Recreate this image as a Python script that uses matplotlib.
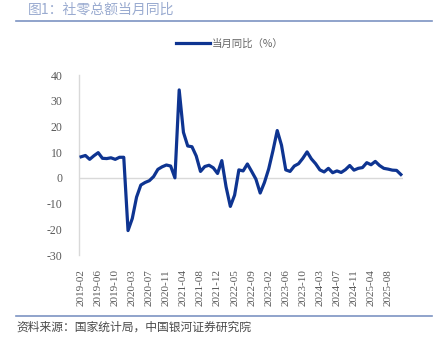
import numpy as np
import pandas as pd
import matplotlib
matplotlib.use('Agg')
import matplotlib.pyplot as plt
from matplotlib.lines import Line2D

# monthly yoy (%), January merged into February
months = [d.strftime('%Y-%m') for d in pd.date_range('2019-02-01', '2025-11-01', freq='MS') if d.month != 1]
retail_yoy = [
    8.2, 8.7, 7.2, 8.6, 9.8, 7.6, 7.5, 7.8, 7.2, 8.0, 8.0,            # 2019
    -20.5, -15.8, -7.5, -2.8, -1.8, -1.1, 0.5, 3.3, 4.3, 5.0, 4.6,    # 2020
    0.0, 34.2, 17.7, 12.4, 12.1, 8.5, 2.5, 4.4, 4.9, 3.9, 1.7,        # 2021
    6.7, -3.5, -11.1, -6.7, 3.1, 2.7, 5.4, 2.5, -0.5, -5.9, -1.8,     # 2022
    3.5, 10.6, 18.4, 12.7, 3.1, 2.5, 4.6, 5.5, 7.6, 10.1, 7.4,        # 2023
    5.5, 3.1, 2.3, 3.7, 2.0, 2.7, 2.1, 3.2, 4.8, 3.0, 3.7,            # 2024
    4.0, 5.9, 5.1, 6.4, 4.8, 3.7, 3.4, 3.0, 2.9, 1.3,                 # 2025
]
y_ticks = [40, 30, 20, 10, 0, -10, -20, -30]

cjk = ['Noto Sans CJK SC', 'DejaVu Sans']
tick_font = 'Liberation Serif'
line_color = '#0e3491'
frame_blue = '#7d94c2'

fig = plt.figure(figsize=(4.4, 3.48), dpi=100)
ax = fig.add_axes([79 / 440, 1 - 255 / 348, 324 / 440, 180 / 348])

x = np.arange(len(retail_yoy))
ax.plot(x, retail_yoy, color=line_color, lw=2.3, solid_joinstyle='round', zorder=3)
ax.axhline(0, color='#d9d9d9', lw=1, zorder=1)

ax.set_xlim(-0.5, 75.5)
ax.set_ylim(-30, 40)
ax.set_yticks(y_ticks)
ax.set_yticklabels([str(v) for v in y_ticks], fontname=tick_font, fontsize=8.5, color='#595959')
ax.set_xticks(x[::4])
ax.set_xticklabels(months[::4], rotation=90, fontname=tick_font, fontsize=8, color='#595959')
ax.tick_params(axis='both', length=0)
ax.tick_params(axis='y', pad=12)
ax.tick_params(axis='x', pad=10)
for side in ['top', 'right', 'bottom']:
    ax.spines[side].set_visible(False)
ax.spines['left'].set_color('#d9d9d9')
ax.spines['left'].set_linewidth(1)

# legend
handle = Line2D([], [], color=line_color, lw=2.3)
fig.legend([handle], ['当月同比（%）'], loc='center', bbox_to_anchor=(230 / 440, 1 - 44 / 348),
           frameon=False, prop={'family': cjk, 'size': 7.5}, labelcolor='#666666',
           handlelength=3.2, handletextpad=0.2)

# title, frame lines, source
fig.text(28 / 440, 1 - 10 / 348, '图1：社零总额当月同比', family=cjk, fontsize=10,
         color='#9aabd0', va='center', ha='left')
fig.add_artist(Line2D([16 / 440, 432 / 440], [1 - 21 / 348] * 2, color=frame_blue, lw=1.2))
fig.add_artist(Line2D([16 / 440, 432 / 440], [1 - 316 / 348] * 2, color=frame_blue, lw=1.2))
fig.text(16 / 440, 1 - 327 / 348, '资料来源：国家统计局，中国银河证券研究院', family=cjk, fontsize=8.5,
         style='italic', color='#4a4a4a', va='center', ha='left')

fig.savefig('out.png', dpi=100)
